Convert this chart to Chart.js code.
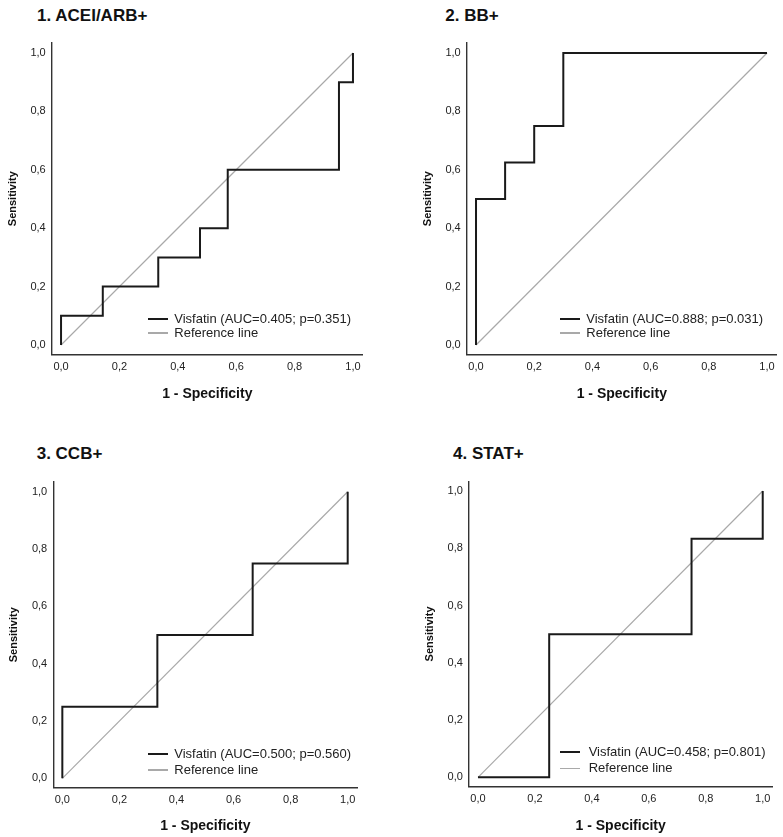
<!DOCTYPE html>
<html>
<head>
<meta charset="utf-8">
<script src="https://cdn.jsdelivr.net/npm/chart.js@4/dist/chart.umd.min.js"></script>
<style>
  html, body { margin: 0; padding: 0; background: #fff; }
  body { width: 783px; height: 837px; position: relative; overflow: hidden; font-family: Arial, "Liberation Sans", sans-serif; }
  .panel { position: absolute; }
  .ptitle { position: absolute; font-weight: bold; font-size: 17px; line-height: 17px; color: #111; white-space: nowrap; }
  .lgline { position: absolute; width: 20px; }
  .lgtext { position: absolute; font-size: 13px; line-height: 14px; color: #222; white-space: nowrap; }
</style>
</head>
<body>
<script>
// ---------- data ----------
const tickValues = [0, 0.2, 0.4, 0.6, 0.8, 1.0];
const panelTitles = ["1. ACEI/ARB+", "2. BB+", "3. CCB+", "4. STAT+"];
const seriesNames = [
  "Visfatin (AUC=0.405; p=0.351)",
  "Visfatin (AUC=0.888; p=0.031)",
  "Visfatin (AUC=0.500; p=0.560)",
  "Visfatin (AUC=0.458; p=0.801)"
];
const referenceName = "Reference line";
const xAxisTitle = "1 - Specificity";
const yAxisTitle = "Sensitivity";

// ROC curves: 1 - specificity (x) and sensitivity (y)
const acei_fpr = [0, 0, 0.143, 0.143, 0.333, 0.333, 0.476, 0.476, 0.571, 0.571, 0.952, 0.952, 1, 1];
const acei_tpr = [0, 0.1, 0.1, 0.2, 0.2, 0.3, 0.3, 0.4, 0.4, 0.6, 0.6, 0.9, 0.9, 1];
const bb_fpr = [0, 0, 0.1, 0.1, 0.2, 0.2, 0.3, 0.3, 1];
const bb_tpr = [0, 0.5, 0.5, 0.625, 0.625, 0.75, 0.75, 1, 1];
const ccb_fpr = [0, 0, 0.333, 0.333, 0.667, 0.667, 1, 1];
const ccb_tpr = [0, 0.25, 0.25, 0.5, 0.5, 0.75, 0.75, 1];
const stat_fpr = [0, 0.25, 0.25, 0.75, 0.75, 1, 1];
const stat_tpr = [0, 0, 0.5, 0.5, 0.833, 0.833, 1];
const ref_x = [0, 1];
const ref_y = [0, 1];

// ---------- layout (pixel geometry only) ----------
const panels = [
  { fpr: acei_fpr, tpr: acei_tpr, ox: 0,   oy: 0,   W: 391, H: 420, l: 51.7,  r: 362.9, t: 43.1,  b: 354.3, xtc: 394,   ytc: 13,
    title: [37, 7.3], lg: { lx: 148, tx: 174.3, y1: 319, y2: 333 } },
  { fpr: bb_fpr,   tpr: bb_tpr,   ox: 392, oy: 0,   W: 391, H: 420, l: 466.7, r: 776.9, t: 43.1,  b: 354.3, xtc: 394,   ytc: 428,
    title: [445.3, 7.3], lg: { lx: 559.7, tx: 586.3, y1: 319, y2: 333 } },
  { fpr: ccb_fpr,  tpr: ccb_tpr,  ox: 0,   oy: 420, W: 391, H: 417, l: 53.2,  r: 357.4, t: 482,   b: 787.5, xtc: 826.5, ytc: 13.5,
    title: [36.7, 444.9], lg: { lx: 148, tx: 174.3, y1: 754.3, y2: 770 } },
  { fpr: stat_fpr, tpr: stat_tpr, ox: 392, oy: 420, W: 391, H: 417, l: 468.9, r: 772.4, t: 481.3, b: 786.5, xtc: 826,   ytc: 429.5,
    title: [453, 444.9], lg: { lx: 559.7, tx: 588.7, y1: 752.3, y2: 768.3 } }
];

const AX_MIN = -0.032, AX_MAX = 1.034;
const tickFont = { family: "Arial, 'Liberation Sans', sans-serif", size: 11 };
const xTitleFont = { family: "Arial, 'Liberation Sans', sans-serif", size: 14, weight: 'bold', lineHeight: 1.2 };
const yTitleFont = { family: "Arial, 'Liberation Sans', sans-serif", size: 11, weight: 'bold', lineHeight: 1.2 };
const fmt = v => Number(v).toFixed(1).replace('.', ',');

panels.forEach((p, i) => {
  // title
  const t = document.createElement('div');
  t.className = 'ptitle';
  t.textContent = panelTitles[i];
  t.style.left = p.title[0] + 'px';
  t.style.top = p.title[1] + 'px';
  document.body.appendChild(t);

  // canvas
  const wrap = document.createElement('div');
  wrap.className = 'panel';
  wrap.style.left = p.ox + 'px';
  wrap.style.top = p.oy + 'px';
  wrap.style.width = p.W + 'px';
  wrap.style.height = p.H + 'px';
  const cv = document.createElement('canvas');
  cv.width = p.W; cv.height = p.H;
  cv.style.width = p.W + 'px'; cv.style.height = p.H + 'px';
  wrap.appendChild(cv);
  document.body.appendChild(wrap);

  const yWidth = p.l - p.ox;
  const xHeight = p.oy + p.H - p.b;
  const xTitleLH = xTitleFont.size * xTitleFont.lineHeight;
  const yTitleLH = yTitleFont.size * yTitleFont.lineHeight;
  const xTitlePadBottom = p.oy + p.H - xTitleLH / 2 - p.xtc;
  const yTitlePadTop = p.ytc - p.ox - yTitleLH / 2;

  new Chart(cv, {
    type: 'scatter',
    data: {
      datasets: [
        {
          label: seriesNames[i],
          data: p.fpr.map((x, k) => ({ x: x, y: p.tpr[k] })),
          showLine: true,
          borderColor: '#1a1a1a',
          borderWidth: 2,
          pointRadius: 0,
          fill: false,
          tension: 0,
          borderJoinStyle: 'miter',
          clip: false,
          order: 1
        },
        {
          label: referenceName,
          data: ref_x.map((x, k) => ({ x: x, y: ref_y[k] })),
          showLine: true,
          borderColor: '#a9a9a9',
          borderWidth: 1.2,
          pointRadius: 0,
          fill: false,
          clip: false,
          order: 2
        }
      ]
    },
    options: {
      responsive: false,
      animation: false,
      devicePixelRatio: 1,
      layout: { padding: { left: 0, top: p.t - p.oy, right: p.ox + p.W - p.r, bottom: 0 } },
      plugins: { legend: { display: false }, tooltip: { enabled: false }, title: { display: false } },
      scales: {
        x: {
          type: 'linear',
          position: 'bottom',
          min: AX_MIN, max: AX_MAX,
          afterBuildTicks: s => { s.ticks = tickValues.map(v => ({ value: v })); },
          afterFit: s => { s.height = xHeight; },
          grid: { display: false, drawTicks: false },
          border: { display: true, color: '#333', width: 1.4 },
          ticks: { callback: fmt, font: tickFont, color: '#222', padding: 6, maxRotation: 0, autoSkip: false },
          title: { display: true, text: xAxisTitle, font: xTitleFont, color: '#111', padding: { top: 0, bottom: xTitlePadBottom } }
        },
        y: {
          type: 'linear',
          position: 'left',
          min: AX_MIN, max: AX_MAX,
          afterBuildTicks: s => { s.ticks = tickValues.map(v => ({ value: v })); },
          afterFit: s => { s.width = yWidth; },
          grid: { display: false, drawTicks: false },
          border: { display: true, color: '#333', width: 1.4 },
          ticks: { callback: fmt, font: tickFont, color: '#222', padding: 6, autoSkip: false },
          title: { display: true, text: yAxisTitle, font: yTitleFont, color: '#111', padding: { top: yTitlePadTop, bottom: 0 } }
        }
      }
    }
  });

  // legend (HTML)
  const mk = (cls, txt, x, y, extra) => {
    const d = document.createElement('div');
    d.className = cls;
    if (txt) d.textContent = txt;
    d.style.left = x + 'px';
    d.style.top = y + 'px';
    Object.assign(d.style, extra || {});
    document.body.appendChild(d);
  };
  mk('lgline', '', p.lg.lx, p.lg.y1 - 1, { height: '2px', background: '#1a1a1a' });
  mk('lgline', '', p.lg.lx, p.lg.y2 - 0.6, { height: '1.2px', background: '#a9a9a9' });
  mk('lgtext', seriesNames[i], p.lg.tx, p.lg.y1 - 7.5);
  mk('lgtext', referenceName, p.lg.tx, p.lg.y2 - 7.5);
});
</script>
</body>
</html>
